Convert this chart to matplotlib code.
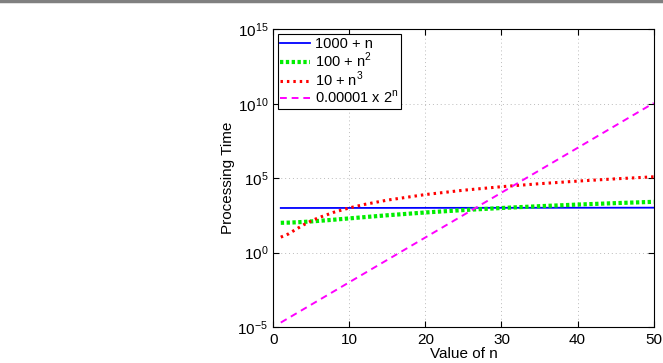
import matplotlib
matplotlib.use("Agg")
import matplotlib.pyplot as plt
from matplotlib.ticker import FixedLocator, NullLocator

plt.rcParams['font.family'] = ['Liberation Sans', 'DejaVu Sans']
plt.rcParams['mathtext.fontset'] = 'custom'
plt.rcParams['mathtext.rm'] = 'Liberation Sans'

# values
n = [1, 2, 3, 4, 5, 6, 8, 10, 12, 15, 20, 25, 30, 35, 40, 45, 50]
linear = [1001, 1002, 1003, 1004, 1005, 1006, 1008, 1010, 1012, 1015,
          1020, 1025, 1030, 1035, 1040, 1045, 1050]
quad = [101, 104, 109, 116, 125, 136, 164, 200, 244, 325,
        500, 725, 1000, 1325, 1700, 2125, 2600]
cubic = [11, 18, 37, 74, 135, 226, 522, 1010, 1738, 3385,
         8010, 15635, 27010, 42885, 64010, 91135, 125010]
n_exp = [1, 50]
expo = [2e-5, 1.126e10]

labels = ['1000 + n', '100 + n$^2$', '10 + n$^3$', '0.00001 x 2$^\\mathrm{n}$']

fig = plt.figure(figsize=(6.63, 3.63), dpi=100)
# grey strip at the top of the image
fig.add_artist(plt.Line2D([0, 1], [0.997, 0.997], color='#808080', lw=2.5,
                          transform=fig.transFigure))
ax = fig.add_axes([0.412, 0.099, 0.574, 0.820])

ax.plot(n, linear, color='blue', lw=1.3, label=labels[0])
ax.plot(n, quad, color='#00ee00', lw=3, ls=(0, (0.8, 0.6)), label=labels[1])
ax.plot(n, cubic, color='red', lw=2.2, ls=(0, (0.8, 1.3)), label=labels[2])
ax.plot(n_exp, expo, color='magenta', lw=1.4, ls=(0, (3.5, 2.5)), label=labels[3])

ax.set_yscale('log')
ax.set_xlim(0, 50)
ax.set_ylim(1e-5, 1e15)
ax.set_xticks([0, 10, 20, 30, 40, 50])
ax.yaxis.set_major_locator(FixedLocator([1e-5, 1e0, 1e5, 1e10, 1e15]))
ax.yaxis.set_minor_locator(NullLocator())
ax.tick_params(direction='in', top=True, right=True, labelsize=11, length=4)
ax.tick_params(axis='x', pad=4)
ax.grid(True, ls=(0, (1, 3)), color='#bbbbbb', lw=0.7)
for s in ax.spines.values():
    s.set_linewidth(0.8)

ax.set_xlabel('Value of n', fontsize=11, labelpad=0)
ax.set_ylabel('Processing Time', fontsize=11, labelpad=2)

leg = ax.legend(loc='upper left', fontsize=10.5, fancybox=False, framealpha=1,
                edgecolor='black', borderaxespad=0.3, handlelength=2.0,
                labelspacing=0.0, borderpad=0.2, handletextpad=0.35)
leg.get_frame().set_linewidth(0.8)

fig.savefig('out.png', dpi=100)
